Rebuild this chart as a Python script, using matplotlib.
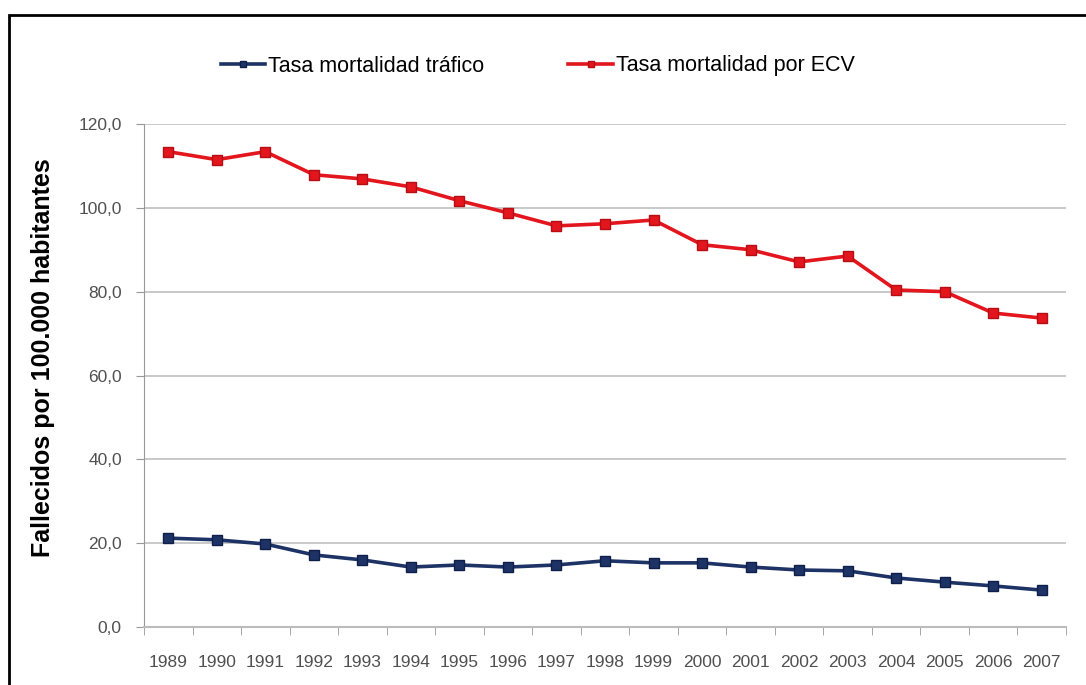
import matplotlib
matplotlib.use("Agg")
import matplotlib.pyplot as plt
from matplotlib.patches import Rectangle

plt.rcParams['font.family'] = ['Liberation Sans', 'DejaVu Sans']

years = ['1989', '1990', '1991', '1992', '1993', '1994', '1995', '1996', '1997', '1998',
         '1999', '2000', '2001', '2002', '2003', '2004', '2005', '2006', '2007']
trafico = [21.2, 20.8, 19.8, 17.2, 16.0, 14.3, 14.8, 14.3, 14.8, 15.8,
           15.3, 15.3, 14.3, 13.6, 13.4, 11.7, 10.7, 9.8, 8.8]
ecv = [113.4, 111.5, 113.4, 107.9, 106.9, 105.0, 101.7, 98.8, 95.7, 96.2,
       97.1, 91.2, 90.0, 87.1, 88.5, 80.4, 80.0, 74.9, 73.7]
yticks = [0, 20, 40, 60, 80, 100, 120]

W, H = 1086, 685
fig = plt.figure(figsize=(W / 100, H / 100), dpi=100)

# outer frame around the whole chart
fig.patches.append(Rectangle((9 / W, -0.05), 1.2, 1 - 15 / H + 0.05, transform=fig.transFigure,
                             fill=False, edgecolor='black', linewidth=2))

ax = fig.add_axes([144 / W, 1 - 627 / H, (1066 - 144) / W, (627 - 124) / H])
x = list(range(len(years)))

ax.plot(x, trafico, color='#1D3265', linewidth=2.6, marker='s', markersize=7,
        markerfacecolor='#1D3265', markeredgecolor='#0F1F4A', label='Tasa mortalidad tráfico')
ax.plot(x, ecv, color='#E3151D', linewidth=2.6, marker='s', markersize=7,
        markerfacecolor='#E3151D', markeredgecolor='#B50E14', label='Tasa mortalidad por ECV')

ax.set_xlim(-0.5, len(years) - 0.5)
ax.set_ylim(0, 120)
ax.set_yticks(yticks)
ax.set_yticklabels([f'{v:.1f}'.replace('.', ',') for v in yticks], fontsize=12.5, color='#505050')
ax.set_xticks(x)
ax.set_xticklabels(years, fontsize=12.5, color='#505050')
ax.set_xticks([i - 0.5 for i in range(len(years) + 1)], minor=True)
ax.tick_params(axis='x', which='major', length=0, pad=20)
ax.tick_params(axis='x', which='minor', length=6, color='#999999', direction='out')
ax.tick_params(axis='y', length=6, color='#999999', pad=10)

ax.grid(axis='y', color='#C0C0C0', linewidth=1.2)
ax.set_axisbelow(True)
for side in ['top', 'right']:
    ax.spines[side].set_visible(False)
ax.spines['left'].set_color('#999999')
ax.spines['bottom'].set_color('#BBBBBB')
ax.spines['bottom'].set_linewidth(1.5)

fig.text(43 / W, 1 - 358 / H, 'Fallecidos por 100.000 habitantes', rotation=90,
         fontsize=18, fontweight='bold', ha='center', va='center')

fig.legend(loc='center left', bbox_to_anchor=(221 / W, 1 - 66 / H), bbox_transform=fig.transFigure,
           ncol=2, frameon=False, fontsize=15.5, handlelength=2.05, columnspacing=3.9,
           handletextpad=0.15, borderpad=0, borderaxespad=0, markerscale=0.7)

fig.savefig('out.png', dpi=100)
